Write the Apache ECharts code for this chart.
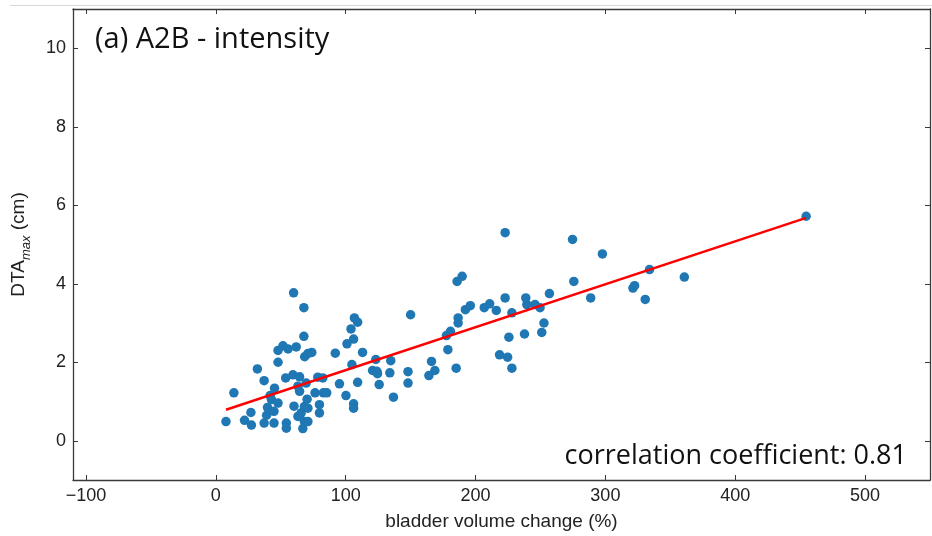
<!DOCTYPE html>
<html>
<head>
<meta charset="utf-8">
<script src="https://cdn.jsdelivr.net/npm/echarts@6/dist/echarts.min.js"></script>
<style>
html,body{margin:0;padding:0;background:#fff;}
#c{width:932px;height:536px;}
</style>
</head>
<body>
<div id="c"></div>
<script>
// bladder volume change (%)
const volChange = [7.8,13.9,22.1,27.0,27.4,32.0,37.2,37.2,39.1,39.8,41.8,45.2,42.8,44.8,44.8,47.9,47.9,51.7,55.6,61.9,
  47.9,53.8,59.4,54.3,54.3,59.9,67.8,67.8,68.4,70.9,73.9,60.2,63.2,65.7,68.2,68.2,67.0,64.5,63.2,64.5,
  70.3,69.6,76.4,78.5,79.8,79.8,82.8,85.4,82.4,92.0,95.2,100.2,104.1,106.7,109.2,106.1,101.0,104.8,113.0,109.2,
  106.1,106.1,70.9,70.9,123.2,120.7,124.0,124.5,134.7,134.0,125.8,136.8,150.0,148.0,148.0,166.1,168.7,164.1,178.7,185.1,
  177.6,180.7,186.6,186.6,185.8,189.7,192.2,196.0,206.7,210.9,216.0,222.8,222.8,228.0,225.7,218.5,224.7,228.0,238.7,239.5,
  245.8,249.7,252.7,251.0,237.7,256.9,274.7,275.7,288.7,297.7,334.0,360.8,322.5,321.2,330.7,454.6];
// DTA max (cm)
const dtaMax = [0.49,1.22,0.52,0.72,0.40,1.83,1.53,0.45,0.65,0.85,1.15,1.34,1.05,0.75,0.45,2.00,2.30,2.42,2.34,2.39,
  0.96,1.60,1.68,0.45,0.32,3.77,3.39,2.66,2.14,2.22,2.25,0.88,0.62,0.71,0.87,0.49,0.31,1.63,1.39,1.26,
  1.06,1.47,1.22,1.62,0.92,0.71,1.22,1.22,1.60,2.23,1.45,1.15,2.85,3.13,3.02,2.59,2.47,1.94,2.25,1.49,
  0.94,0.83,0.83,0.49,2.07,1.79,1.77,1.71,2.04,1.73,1.43,1.11,3.21,1.76,1.47,2.02,1.79,1.66,2.32,1.85,
  2.68,2.79,3.13,3.00,4.06,4.19,3.34,3.44,3.39,3.49,3.32,5.30,3.64,3.26,2.64,2.19,2.13,1.85,3.64,3.47,
  3.47,3.39,3.00,2.76,2.72,3.75,5.13,4.06,3.64,4.76,4.36,4.17,3.95,3.89,3.60,5.72];
// fitted line end points
const fitX = [7.8, 454.6];
const fitY = [0.79, 5.68];
const xTicks = [-100, 0, 100, 200, 300, 400, 500];
const yTicks = [0, 2, 4, 6, 8, 10];

const scatterData = volChange.map((v, i) => [v, dtaMax[i]]);
const fitData = fitX.map((v, i) => [v, fitY[i]]);

const tickFont = 'Liberation Sans, Arial, sans-serif';
const axisColor = '#3a3a3a';
const fmt = v => String(v).replace('-', '\u2212');

const chart = echarts.init(document.getElementById('c'), null, {renderer: 'canvas'});
chart.setOption({
  animation: false,
  backgroundColor: '#fff',
  grid: {left: 73, top: 9, right: 2, bottom: 56, containLabel: false},
  xAxis: [{
    type: 'value', min: -110, max: 550, position: 'bottom',
    name: 'bladder volume change (%)', nameLocation: 'middle', nameGap: 32,
    nameTextStyle: {fontFamily: tickFont, fontSize: 19, color: '#222'},
    axisLine: {show: true, onZero: false, lineStyle: {color: axisColor, width: 1.3}},
    axisTick: {show: true, inside: true, length: 5, customValues: xTicks, lineStyle: {color: axisColor}},
    axisLabel: {show: true, customValues: xTicks, margin: 7, formatter: fmt, fontFamily: tickFont, fontSize: 18, color: '#222'},
    splitLine: {show: false}
  }, {
    type: 'value', min: -110, max: 550, position: 'top',
    axisLine: {show: true, onZero: false, lineStyle: {color: axisColor, width: 1.3}},
    axisTick: {show: true, inside: true, length: 5, customValues: xTicks, lineStyle: {color: axisColor}},
    axisLabel: {show: false},
    splitLine: {show: false}
  }],
  yAxis: [{
    type: 'value', min: -1, max: 11, position: 'left',
    name: '{n|DTA}{s|max}{n| (cm)}', nameLocation: 'middle', nameGap: 40, nameRotate: 90,
    nameTextStyle: {
      rich: {
        n: {fontFamily: tickFont, fontSize: 19, color: '#222', lineHeight: 28, verticalAlign: 'middle'},
        s: {fontFamily: tickFont, fontSize: 13, fontStyle: 'italic', color: '#222', lineHeight: 13, verticalAlign: 'bottom'}
      }
    },
    axisLine: {show: true, onZero: false, lineStyle: {color: axisColor, width: 1.3}},
    axisTick: {show: true, inside: true, length: 5, customValues: yTicks, lineStyle: {color: axisColor}},
    axisLabel: {show: true, customValues: yTicks, margin: 7, formatter: fmt, fontFamily: tickFont, fontSize: 18, color: '#222'},
    splitLine: {show: false}
  }, {
    type: 'value', min: -1, max: 11, position: 'right',
    axisLine: {show: true, onZero: false, lineStyle: {color: axisColor, width: 1.3}},
    axisTick: {show: true, inside: true, length: 5, customValues: yTicks, lineStyle: {color: axisColor}},
    axisLabel: {show: false},
    splitLine: {show: false}
  }],
  series: [{
    type: 'scatter', xAxisIndex: 0, yAxisIndex: 0,
    data: scatterData, symbol: 'circle', symbolSize: 9.5,
    itemStyle: {color: '#1f77b4', opacity: 1}
  }, {
    type: 'line', xAxisIndex: 0, yAxisIndex: 0,
    data: fitData, symbol: 'none',
    lineStyle: {color: '#ff0000', width: 2.4}, z: 5
  }],
  graphic: [{
    type: 'line', shape: {x1: 10, y1: 5.5, x2: 932, y2: 5.5},
    style: {stroke: '#d8d8d8', lineWidth: 1}
  }, {
    type: 'text', left: 95, top: 25,
    style: {text: '(a) A2B - intensity', font: '29px "Open Sans", sans-serif', fill: '#111'}
  }, {
    type: 'text', right: 25, top: 443,
    style: {text: 'correlation coefficient: 0.81', font: '27px "Open Sans", sans-serif', fill: '#111'}
  }]
});
</script>
</body>
</html>
